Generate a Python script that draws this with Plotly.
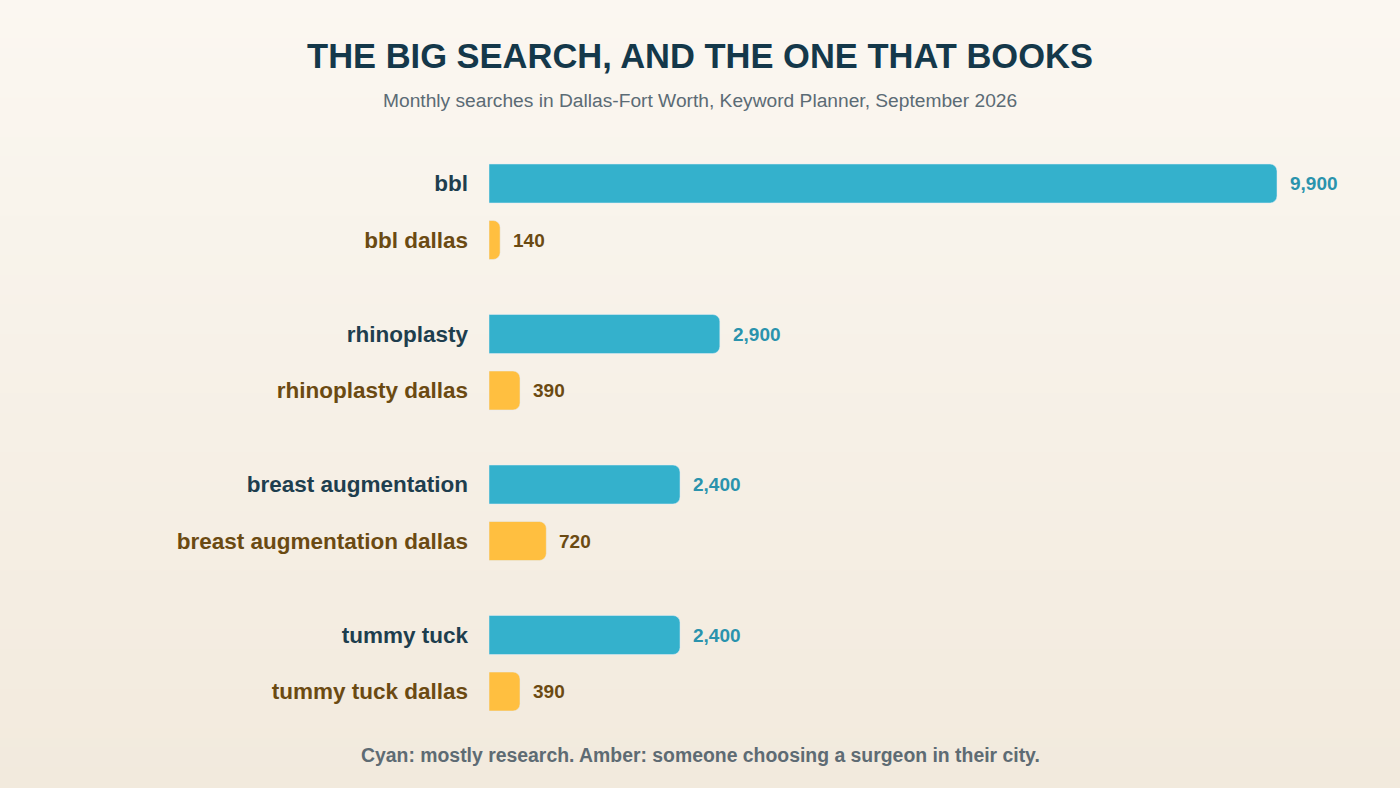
#!/usr/bin/env python3
"""
Broad vs. local search volume, Dallas-Fort Worth keyword planner snapshot.
"""

import plotly.graph_objects as go

# data
groups = ["bbl", "rhinoplasty", "breast augmentation", "tummy tuck"]
broad_searches = [9900, 2900, 2400, 2400]
local_labels = ["bbl dallas", "rhinoplasty dallas", "breast augmentation dallas", "tummy tuck dallas"]
local_searches = [140, 390, 720, 390]

# styling
CYAN = "#34b1cc"
CYAN_TEXT = "#2a93ad"
AMBER = "#ffbf40"
AMBER_TEXT = "#6b4a12"
NAVY_TEXT = "#1e3e4e"
FONT = "Liberation Sans, Arial, Helvetica, sans-serif"

W, H = 1400, 788
M_T, M_B, M_L, M_R = 150, 63, 489, 20
PLOT_W = W - M_L - M_R
PLOT_H = H - M_T - M_B

# layout of rows: each group has broad row then local row
GROUP_STEP = 2.664
PAIR_OFFSET = 1.0
broad_pos = [i * GROUP_STEP for i in range(len(groups))]
local_pos = [p + PAIR_OFFSET for p in broad_pos]
pad = 0.593


def paper_y(py):
    return (H - M_B - py) / PLOT_H


def paper_x(px):
    return (px - M_L) / PLOT_W


fig = go.Figure()

fig.add_trace(go.Bar(
    x=broad_searches, y=broad_pos, orientation="h",
    marker=dict(color=CYAN, cornerradius=7),
    width=0.69, hoverinfo="x+text", text=groups, textposition="none",
    showlegend=False,
))
fig.add_trace(go.Bar(
    x=local_searches, y=local_pos, orientation="h",
    marker=dict(color=AMBER, cornerradius=7),
    width=0.69, hoverinfo="x+text", text=local_labels, textposition="none",
    showlegend=False,
))

# value labels
for val, pos in zip(broad_searches, broad_pos):
    fig.add_annotation(x=val, y=pos, text=f"{val:,}", showarrow=False,
                       xanchor="left", xshift=11,
                       font=dict(family=FONT, size=19, color=CYAN_TEXT, weight="bold"))
for val, pos in zip(local_searches, local_pos):
    fig.add_annotation(x=val, y=pos, text=f"{val:,}", showarrow=False,
                       xanchor="left", xshift=11,
                       font=dict(family=FONT, size=19, color=AMBER_TEXT, weight="bold"))

# tick labels with per-row colours
tickvals = []
ticktext = []
for g, b, l, lp in zip(groups, broad_pos, local_labels, local_pos):
    tickvals += [b, lp]
    ticktext += [f"<span style='color:{NAVY_TEXT}'>{g}</span>",
                 f"<span style='color:{AMBER_TEXT}'>{l}</span>"]

# subtitle and footer
fig.add_annotation(xref="paper", yref="paper", x=paper_x(W / 2), y=paper_y(100),
                   text="Monthly searches in Dallas-Fort Worth, Keyword Planner, September 2026",
                   showarrow=False, xanchor="center", yanchor="middle",
                   font=dict(family=FONT, size=19.2, color="#5b6b75"))
fig.add_annotation(xref="paper", yref="paper", x=paper_x(W / 2), y=paper_y(755),
                   text="Cyan: mostly research. Amber: someone choosing a surgeon in their city.",
                   showarrow=False, xanchor="center", yanchor="middle",
                   font=dict(family=FONT, size=19.4, color="#5e6b73", weight="bold"))

# soft vertical gradient background drawn as thin bands
top_rgb = (251, 247, 241)
bot_rgb = (242, 234, 221)
n_bands = 80
shapes = []
for i in range(n_bands):
    t = i / (n_bands - 1)
    c = tuple(round(a + (b - a) * t) for a, b in zip(top_rgb, bot_rgb))
    py0 = i * H / n_bands - 1
    py1 = (i + 1) * H / n_bands + 1
    shapes.append(dict(type="rect", xref="paper", yref="paper", layer="below",
                       x0=paper_x(-5), x1=paper_x(W + 5), y0=paper_y(py1), y1=paper_y(py0),
                       fillcolor=f"rgb{c}", line=dict(width=0)))

# x scale: 788 px for 9,900 searches
px_per_unit = 788 / 9900
x_max = PLOT_W / px_per_unit

fig.update_layout(
    width=W, height=H,
    margin=dict(t=M_T, b=M_B, l=M_L, r=M_R),
    paper_bgcolor="rgb(246,240,231)",
    plot_bgcolor="rgba(0,0,0,0)",
    barmode="overlay",
    shapes=shapes,
    title=dict(text="THE BIG SEARCH, AND THE ONE THAT BOOKS",
               x=0.5, xref="container", xanchor="center",
               y=1 - 56 / H, yref="container", yanchor="middle",
               font=dict(family=FONT, size=34.5, color="#14384a", weight="bold")),
    xaxis=dict(range=[0, x_max], visible=False, fixedrange=True),
    yaxis=dict(range=[local_pos[-1] + pad, -pad], tickvals=tickvals, ticktext=ticktext,
               showgrid=False, zeroline=False, showline=False, ticks="",
               ticklabelstandoff=20,
               tickfont=dict(family=FONT, size=22.5, weight="bold"), fixedrange=True),
    font=dict(family=FONT),
)

fig.write_html("out.html", config={"displayModeBar": False},
               post_script="document.body.style.margin='0';")
